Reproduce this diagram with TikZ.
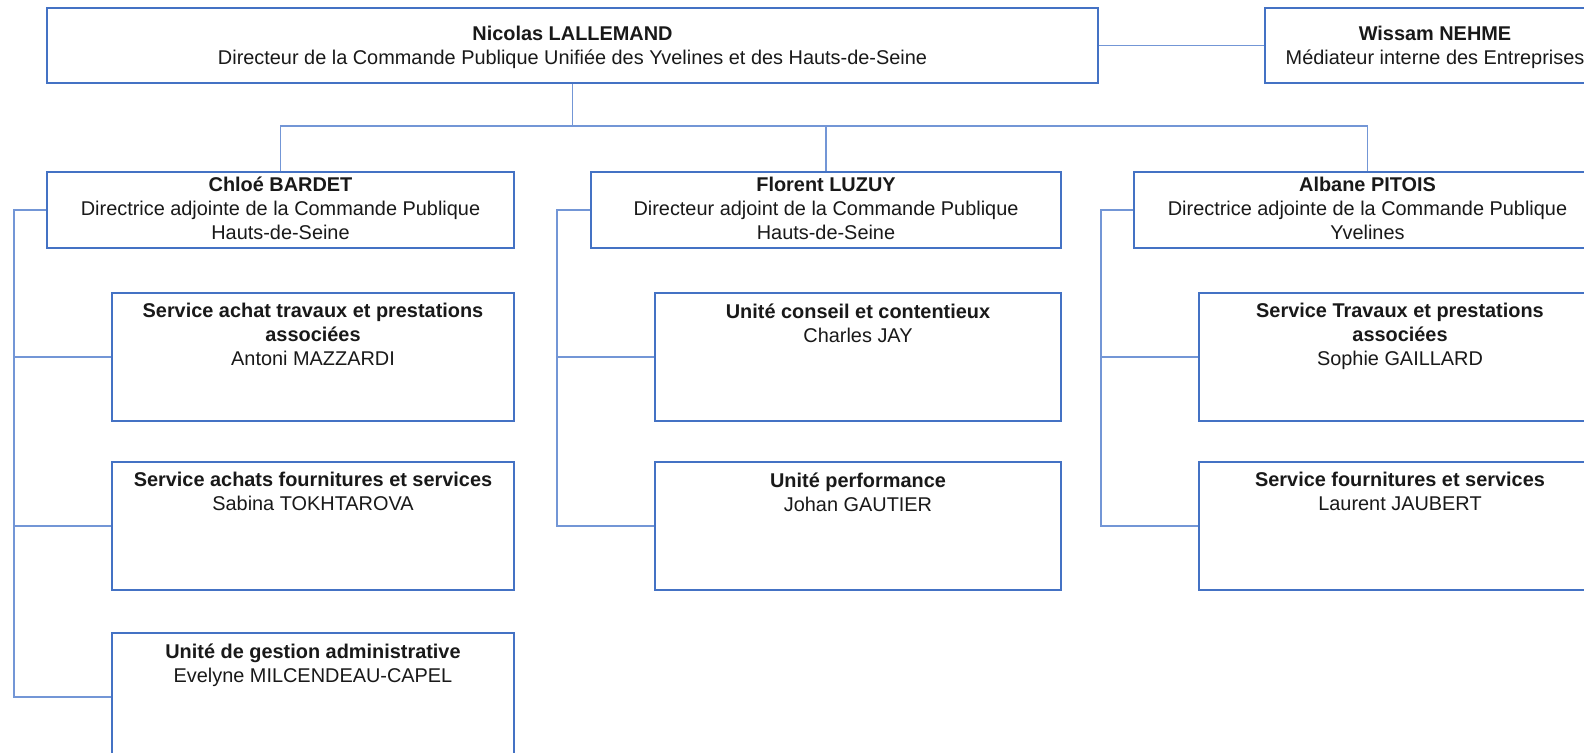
\documentclass[tikz,border=0pt]{standalone}
\usepackage{fontspec}
\setmainfont{Liberation Sans}
\definecolor{boxblue}{HTML}{4472C4}
\definecolor{lineblue}{HTML}{7396D6}
\tikzset{
  box/.style={draw=boxblue, line width=1pt, fill=white, inner sep=0pt, anchor=north west},
  conn/.style={draw=lineblue, line width=0.6pt},
  txt/.style={align=center, font=\fontsize{9.95}{12}\selectfont, inner sep=0pt, text=black!90},
}
\begin{document}
\begin{tikzpicture}[x=0.5pt,y=-0.5pt]
\useasboundingbox (0,0) rectangle (1584,752);
\clip (0,0) rectangle (1584,752);
% boxes
\node[box, minimum width=525.5pt, minimum height=37.5pt] (top) at (46,7) {};
\node[box, minimum width=170pt, minimum height=37.5pt] (wis) at (1264,7) {};
\node[box, minimum width=233.5pt, minimum height=38pt] (chloe) at (46,171) {};
\node[box, minimum width=235pt, minimum height=38pt] (flor) at (590,171) {};
\node[box, minimum width=233.5pt, minimum height=38pt] (alb) at (1133,171) {};
\node[box, minimum width=201pt, minimum height=64pt] (c1) at (111,292) {};
\node[box, minimum width=201pt, minimum height=64pt] (c2) at (111,461) {};
\node[box, minimum width=201pt, minimum height=64pt] (c3) at (111,632) {};
\node[box, minimum width=203pt, minimum height=64pt] (m1) at (654,292) {};
\node[box, minimum width=203pt, minimum height=64pt] (m2) at (654,461) {};
\node[box, minimum width=201pt, minimum height=64pt] (r1) at (1198,292) {};
\node[box, minimum width=201pt, minimum height=64pt] (r2) at (1198,461) {};
% texts
\node[txt] (toptx) at ([yshift=-1pt]top.center) {\textbf{Nicolas LALLEMAND}\\Directeur de la Commande Publique Unifiée des Yvelines et des Hauts-de-Seine};
\node[txt] (wistx) at ([yshift=-1pt]wis.center) {\textbf{Wissam NEHME}\\Médiateur interne des Entreprises};
\node[txt] (chloetx) at ([yshift=0.8pt]chloe.center) {\textbf{Chloé BARDET}\\Directrice adjointe de la Commande Publique\\Hauts-de-Seine};
\node[txt] (flortx) at ([yshift=0.8pt]flor.center) {\textbf{Florent LUZUY}\\Directeur adjoint de la Commande Publique\\Hauts-de-Seine};
\node[txt] (albtx) at ([yshift=0.8pt]alb.center) {\textbf{Albane PITOIS}\\Directrice adjointe de la Commande Publique\\Yvelines};
\node[txt, anchor=north] (c1tx) at ([yshift=-5.5pt]c1.north) {\textbf{Service achat travaux et prestations}\\\textbf{associées}\\Antoni MAZZARDI};
\node[txt, anchor=north] (c2tx) at ([yshift=-5.5pt]c2.north) {\textbf{Service achats fournitures et services}\\Sabina TOKHTAROVA};
\node[txt, anchor=north] (c3tx) at ([yshift=-5.5pt]c3.north) {\textbf{Unité de gestion administrative}\\Evelyne MILCENDEAU-CAPEL};
\node[txt, anchor=north] (m1tx) at ([yshift=-5.5pt]m1.north) {\textbf{Unité conseil et contentieux}\\Charles JAY};
\node[txt, anchor=north] (m2tx) at ([yshift=-5.5pt]m2.north) {\textbf{Unité performance}\\Johan GAUTIER};
\node[txt, anchor=north] (r1tx) at ([yshift=-5.5pt]r1.north) {\textbf{Service Travaux et prestations}\\\textbf{associées}\\Sophie GAILLARD};
\node[txt, anchor=north] (r2tx) at ([yshift=-5.5pt]r2.north) {\textbf{Service fournitures et services}\\Laurent JAUBERT};
% connectors
\coordinate (bus) at (0,126);
\coordinate (lb) at (14,0);
\coordinate (mb) at (557,0);
\coordinate (rb) at (1101,0);
\draw[conn] (top.east) -- (wis.west);
\draw[conn] (top.south) -- (top.south |- bus);
\draw[conn] (chloe.north) |- (alb.north |- bus) -- (alb.north);
\draw[conn] (flor.north) -- (flor.north |- bus);
\draw[conn] (chloe.west) -| (lb |- c3.west) -- (c3.west);
\draw[conn] (lb |- c1.west) -- (c1.west);
\draw[conn] (lb |- c2.west) -- (c2.west);
\draw[conn] (flor.west) -| (mb |- m2.west) -- (m2.west);
\draw[conn] (mb |- m1.west) -- (m1.west);
\draw[conn] (alb.west) -| (rb |- r2.west) -- (r2.west);
\draw[conn] (rb |- r1.west) -- (r1.west);
\end{tikzpicture}
\end{document}
